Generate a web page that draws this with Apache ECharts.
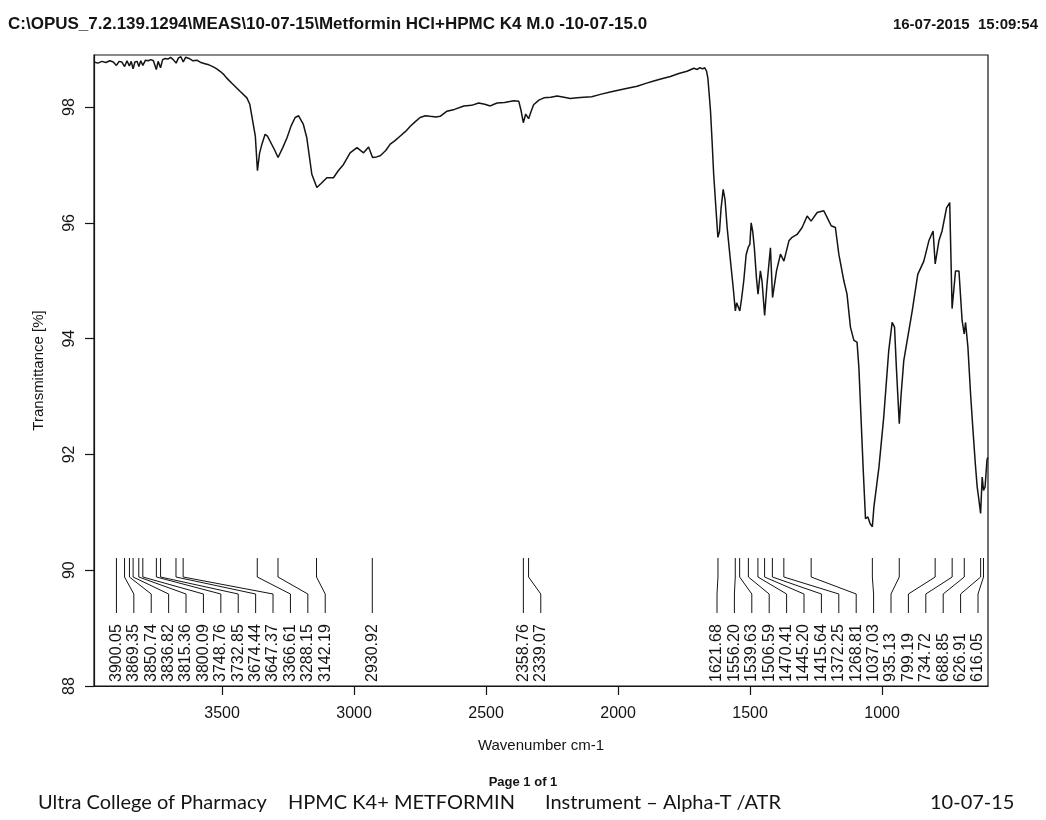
<!DOCTYPE html>
<html>
<head>
<meta charset="utf-8">
<script src="https://cdn.jsdelivr.net/npm/echarts@6.0.0/dist/echarts.min.js"></script>
<style>
  html, body { margin: 0; padding: 0; background: #ffffff; }
  #chart { width: 1046px; height: 820px; }
</style>
</head>
<body>
<div id="chart"></div>
<script>
// FT-IR spectrum (ATR): wavenumber in cm-1, transmittance in %
const wavenumber = [
  3985, 3970, 3955, 3940, 3925, 3912, 3900, 3890, 3880, 3869,
  3860, 3851, 3844, 3837, 3830, 3822, 3815, 3808, 3800, 3790,
  3780, 3770, 3760, 3749, 3742, 3733, 3725, 3715, 3705, 3695,
  3685, 3674, 3665, 3656, 3647, 3638, 3625, 3610, 3595, 3580,
  3565, 3550, 3535, 3520, 3505, 3495, 3482, 3460, 3431, 3406,
  3395, 3387, 3374, 3366, 3358, 3349, 3337, 3328, 3318, 3300,
  3288, 3270, 3254, 3238, 3223, 3210, 3204, 3192, 3179, 3160,
  3141, 3125, 3103, 3078, 3060, 3040, 3015, 2989, 2964, 2945,
  2930, 2915, 2901, 2880, 2863, 2845, 2825, 2805, 2787, 2770,
  2750, 2730, 2712, 2690, 2674, 2648, 2620, 2584, 2555, 2528,
  2505, 2484, 2470, 2458, 2430, 2395, 2376, 2368, 2359, 2350,
  2345, 2339, 2330, 2320, 2300, 2281, 2255, 2231, 2205, 2181,
  2155, 2130, 2100, 2067, 2030, 1991, 1960, 1928, 1895, 1865,
  1835, 1802, 1770, 1739, 1713, 1700, 1690, 1680, 1672, 1665,
  1660, 1656, 1650, 1644, 1638, 1628, 1622, 1616, 1610, 1602,
  1595, 1587, 1577, 1564, 1556, 1551, 1547, 1539, 1532, 1524,
  1515, 1507, 1501, 1496, 1490, 1484, 1476, 1470, 1461, 1455,
  1445, 1436, 1423, 1415, 1400, 1385, 1372, 1353, 1341, 1322,
  1303, 1284, 1269, 1246, 1221, 1208, 1193, 1177, 1164, 1145,
  1133, 1120, 1107, 1095, 1088, 1080, 1072, 1063, 1054, 1045,
  1037, 1031, 1012, 994, 975, 962, 953, 946, 935, 928,
  918, 905, 886, 880, 865, 842, 823, 807, 799, 785,
  773, 756, 744, 735, 722, 709, 697, 689, 684, 675,
  665, 655, 647, 640, 633, 627, 621, 616, 610, 603,
  600
];
const transmittance = [
  98.78, 98.76, 98.79, 98.77, 98.80, 98.78, 98.72, 98.79, 98.78, 98.70,
  98.80, 98.71, 98.79, 98.66, 98.78, 98.79, 98.70, 98.80, 98.72, 98.81,
  98.80, 98.82, 98.80, 98.65, 98.79, 98.68, 98.82, 98.84, 98.83, 98.86,
  98.82, 98.76, 98.85, 98.87, 98.78, 98.86, 98.84, 98.80, 98.81, 98.77,
  98.75, 98.73, 98.70, 98.66, 98.61, 98.57, 98.50, 98.40, 98.27, 98.16,
  98.05, 97.84, 97.50, 96.90, 97.20, 97.36, 97.53, 97.50, 97.41, 97.25,
  97.13, 97.30, 97.47, 97.68, 97.82, 97.85, 97.83, 97.70, 97.47, 96.84,
  96.61, 96.68, 96.78, 96.78, 96.90, 97.01, 97.21, 97.30, 97.21, 97.31,
  97.13, 97.14, 97.16, 97.25, 97.36, 97.42, 97.50, 97.58, 97.67, 97.74,
  97.82, 97.85, 97.84, 97.83, 97.84, 97.93, 97.96, 98.02, 98.03, 98.07,
  98.05, 98.02, 98.05, 98.07, 98.08, 98.11, 98.10, 97.95, 97.73, 97.88,
  97.86, 97.80, 97.92, 98.04, 98.12, 98.16, 98.17, 98.19, 98.17, 98.15,
  98.16, 98.17, 98.18, 98.22, 98.26, 98.30, 98.33, 98.36, 98.41, 98.45,
  98.49, 98.53, 98.58, 98.62, 98.67, 98.65, 98.68, 98.66, 98.68, 98.62,
  98.50, 98.28, 97.93, 97.41, 96.84, 96.15, 95.75, 95.85, 96.25, 96.58,
  96.40, 95.92, 95.46, 94.88, 94.48, 94.62, 94.60, 94.48, 94.70, 95.00,
  95.45, 95.58, 95.63, 96.00, 95.85, 95.57, 95.05, 94.77, 95.17, 95.00,
  94.40, 94.94, 95.57, 94.71, 95.17, 95.46, 95.34, 95.69, 95.75, 95.80,
  95.92, 96.12, 96.03, 96.18, 96.21, 96.09, 95.95, 95.92, 95.46, 95.00,
  94.77, 94.20, 93.97, 93.94, 93.50, 92.64, 91.78, 90.89, 90.92, 90.80,
  90.75, 91.10, 91.78, 92.64, 93.79, 94.28, 94.20, 93.50, 92.53, 93.04,
  93.62, 93.97, 94.48, 94.66, 95.11, 95.34, 95.69, 95.86, 95.29, 95.69,
  95.86, 96.26, 96.35, 94.52, 95.17, 95.17, 94.31, 94.08, 94.28, 93.85,
  93.04, 92.36, 91.84, 91.44, 91.20, 90.98, 91.61, 91.38, 91.44, 91.90,
  91.95
];

// Picked band positions (cm-1)
const peakWavenumbers = [
  3900.05, 3869.35, 3850.74, 3836.82, 3815.36, 3800.09, 3748.76, 3732.85,
  3674.44, 3647.37, 3366.61, 3288.15, 3142.19, 2930.92, 2358.76, 2339.07,
  1621.68, 1556.20, 1539.63, 1506.59, 1470.41, 1445.20, 1415.64, 1372.25,
  1268.81, 1037.03, 935.13, 799.19, 734.72, 688.85, 626.91, 616.05
];

const xTicks = [1000, 1500, 2000, 2500, 3000, 3500];
const yTicks = [88, 90, 92, 94, 96, 98];

const headerPath = 'C:\\OPUS_7.2.139.1294\\MEAS\\10-07-15\\Metformin HCl+HPMC K4 M.0 -10-07-15.0';
const headerStamp = '16-07-2015  15:09:54';
const pageText = 'Page 1 of 1';
const footerItems = ['Ultra College of Pharmacy', 'HPMC K4+ METFORMIN', 'Instrument \u2013 Alpha-T /ATR', '10-07-15'];

const INK = '#141414';
const SANS = '"Liberation Sans", Arial, Helvetica, sans-serif';
const FOOT = 'Lato, "Open Sans", sans-serif';

const X_MIN = 599, X_MAX = 3985;
const Y_MIN = 88, Y_MAX = 98.9;

const chart = echarts.init(document.getElementById('chart'), null, { renderer: 'canvas' });

// Peak-label layout: leaders start at each band position and fan out to
// evenly spaced, non-overlapping vertical labels.
const LBL = { gap: 17.4, rightPad: 10, top: 128, bend1: 109, bend2: 92, end: 73, base: 4 };
let labelLayout = null;

function computeLabelLayout(api) {
  const xs = peakWavenumbers.map(w => api.coord([w, Y_MIN])[0]);
  const rightLimit = api.coord([X_MIN, Y_MIN])[0] - LBL.rightPad;
  const pos = xs.slice();
  for (let i = 1; i < pos.length; i++) pos[i] = Math.max(pos[i], pos[i - 1] + LBL.gap);
  pos[pos.length - 1] = Math.min(pos[pos.length - 1], rightLimit);
  for (let i = pos.length - 2; i >= 0; i--) pos[i] = Math.min(pos[i], pos[i + 1] - LBL.gap);
  return { xs, pos, bottom: api.coord([X_MIN, Y_MIN])[1] };
}

function renderPeak(params, api) {
  if (params.dataIndex === 0 || !labelLayout) labelLayout = computeLabelLayout(api);
  const i = params.dataIndex;
  const x0 = labelLayout.xs[i];
  const lx = labelLayout.pos[i];
  const b = labelLayout.bottom;
  return {
    type: 'group',
    children: [
      {
        type: 'polyline',
        shape: { points: [[x0, b - LBL.top], [x0, b - LBL.bend1], [lx, b - LBL.bend2], [lx, b - LBL.end]] },
        style: { stroke: INK, lineWidth: 1, fill: null }
      },
      {
        type: 'text',
        x: lx,
        y: b - LBL.base,
        rotation: Math.PI / 2,
        style: {
          text: peakWavenumbers[i].toFixed(2),
          fill: INK,
          font: '16px ' + SANS,
          align: 'left',
          verticalAlign: 'middle'
        }
      }
    ]
  };
}

const plainNumber = v => String(v);

const option = {
  backgroundColor: '#ffffff',
  animation: false,
  grid: {
    left: 94, right: 58, top: 55, bottom: 134,
    show: true, borderColor: INK, borderWidth: 1.2, backgroundColor: 'transparent'
  },
  xAxis: {
    type: 'value',
    inverse: true,
    min: X_MIN,
    max: X_MAX,
    name: 'Wavenumber cm-1',
    nameLocation: 'middle',
    nameGap: 52,
    nameTextStyle: { color: INK, fontSize: 15, fontFamily: SANS },
    axisLine: { show: true, lineStyle: { color: INK, width: 1.2 } },
    axisTick: { show: true, inside: false, length: 9, customValues: xTicks, lineStyle: { color: INK, width: 1.2 } },
    axisLabel: { customValues: xTicks, formatter: plainNumber, color: INK, fontSize: 16, fontFamily: SANS, margin: 20 },
    splitLine: { show: false }
  },
  yAxis: {
    type: 'value',
    min: Y_MIN,
    max: Y_MAX,
    name: 'Transmittance [%]',
    nameLocation: 'middle',
    nameGap: 48,
    nameTextStyle: { color: INK, fontSize: 15, fontFamily: SANS },
    axisLine: { show: true, lineStyle: { color: INK, width: 1.2 } },
    axisTick: { show: true, inside: false, length: 9, customValues: yTicks, lineStyle: { color: INK, width: 1.2 } },
    axisLabel: { customValues: yTicks, formatter: plainNumber, rotate: 90, color: INK, fontSize: 16, fontFamily: SANS, margin: 16 },
    splitLine: { show: false }
  },
  graphic: [
    { type: 'text', left: 8, top: 16, style: { text: headerPath, fill: INK, font: 'bold 17px ' + SANS } },
    { type: 'text', right: 8, top: 17, style: { text: headerStamp, fill: INK, font: 'bold 15px ' + SANS } },
    { type: 'text', left: 'center', top: 776, style: { text: pageText, fill: INK, font: 'bold 13px ' + SANS } },
    { type: 'text', left: 38, top: 793, style: { text: footerItems[0], fill: INK, font: '20px ' + FOOT } },
    { type: 'text', left: 288, top: 793, style: { text: footerItems[1], fill: INK, font: '20px ' + FOOT } },
    { type: 'text', left: 545, top: 793, style: { text: footerItems[2], fill: INK, font: '20px ' + FOOT } },
    { type: 'text', left: 930, top: 793, style: { text: footerItems[3], fill: INK, font: '20px ' + FOOT } }
  ],
  series: [
    {
      name: 'Spectrum',
      type: 'line',
      data: wavenumber.map((w, i) => [w, transmittance[i]]),
      showSymbol: false,
      smooth: false,
      lineStyle: { color: INK, width: 1.5 },
      clip: true,
      z: 3
    },
    {
      name: 'Peaks',
      type: 'custom',
      data: peakWavenumbers.map(w => [w, Y_MIN]),
      encode: { x: 0, y: 1 },
      renderItem: renderPeak,
      clip: false,
      z: 4
    }
  ]
};

chart.setOption(option);
</script>
</body>
</html>
